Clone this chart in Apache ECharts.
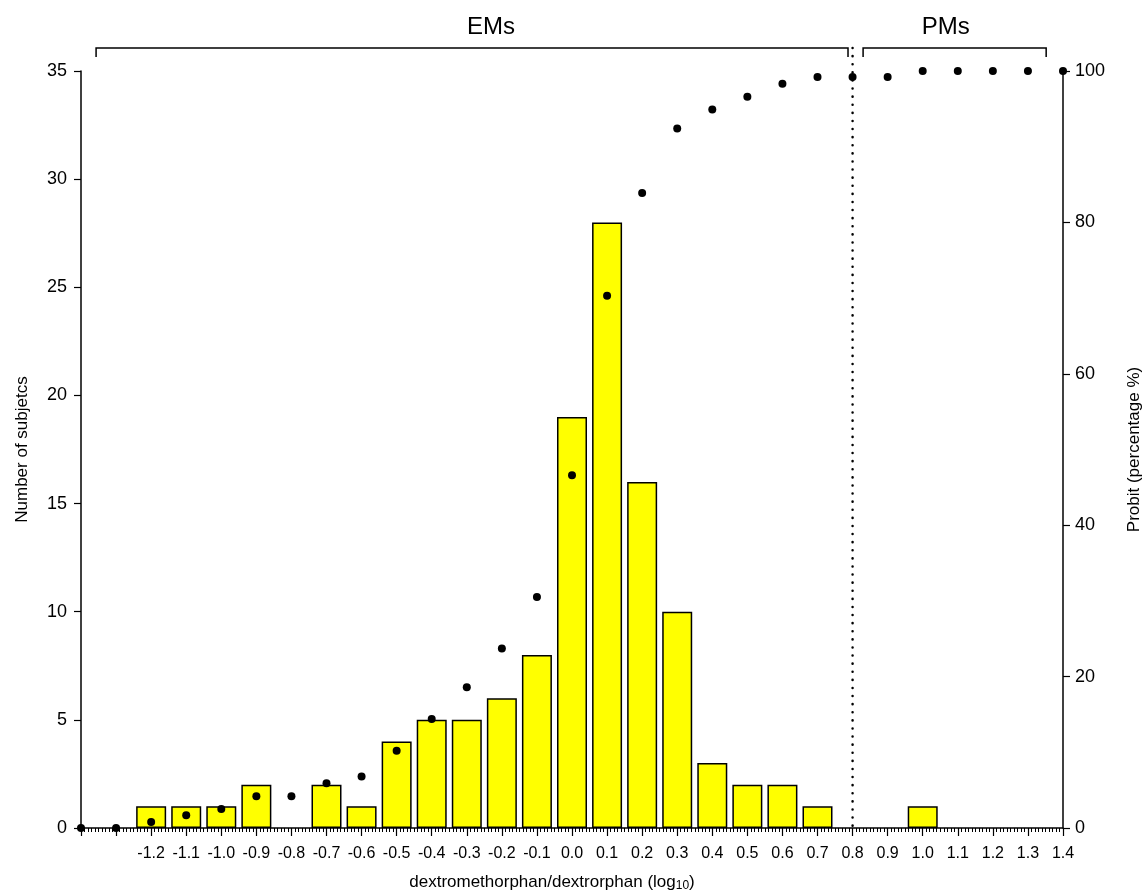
<!DOCTYPE html>
<html>
<head>
<meta charset="utf-8">
<script src="https://cdn.jsdelivr.net/npm/echarts@6/dist/echarts.min.js"></script>
<style>html,body{margin:0;padding:0;background:#fff;overflow:hidden;width:100%;height:100%;}#c{width:100vw;height:100vh;}</style>
</head>
<body>
<div id="c"></div>
<script>
// Histogram bins (log10 metabolic ratio) and number of subjects
const binCenters = [-1.2,-1.1,-1.0,-0.9,-0.7,-0.6,-0.5,-0.4,-0.3,-0.2,-0.1,0.0,0.1,0.2,0.3,0.4,0.5,0.6,0.7,1.0];
const counts     = [1,1,1,2,2,1,4,5,5,6,8,19,28,16,10,3,2,2,1,1];
// Probit (cumulative percentage) points
const probitX   = [-1.4,-1.3,-1.2,-1.1,-1.0,-0.9,-0.8,-0.7,-0.6,-0.5,-0.4,-0.3,-0.2,-0.1,0.0,0.1,0.2,0.3,0.4,0.5,0.6,0.7,0.8,0.9,1.0,1.1,1.2,1.3,1.4];
const probitPct = [0,0,0.8,1.7,2.5,4.2,4.2,5.9,6.8,10.2,14.4,18.6,23.7,30.5,46.6,70.3,83.9,92.4,94.9,96.6,98.3,99.2,99.2,99.2,100,100,100,100,100];
// Group annotations
const groups = [
  {label: 'EMs', from: -1.357, to: 0.787, labelX: -0.231},
  {label: 'PMs', from: 0.830, to: 1.352, labelX: 1.066}
];
const cutoff = 0.8;

const FONT = 'Liberation Sans, Arial, Helvetica, sans-serif';
const chart = echarts.init(document.getElementById('c'));
const option = {
  animation: false,
  backgroundColor: '#fff',
  grid: {left: 81, right: 82, top: 71, bottom: 63, containLabel: false, outerBoundsMode: 'none'},
  xAxis: {
    type: 'value', min: -1.4, max: 1.4, interval: 0.1,
    name: 'dextromethorphan/dextrorphan (log{sub|10})',
    nameLocation: 'middle', nameGap: 44,
    nameTextStyle: {fontFamily: FONT, fontSize: 17, color: '#000', padding: [0, 40, 0, 0],
      rich: {sub: {fontFamily: FONT, fontSize: 12, color: '#000', verticalAlign: 'bottom', padding: [8, 0, 0, 0]}}},
    axisLine: {show: true, onZero: false, lineStyle: {color: '#000', width: 1.5}},
    axisTick: {show: true, length: 8, lineStyle: {color: '#000', width: 1.2}},
    minorTick: {show: true, splitNumber: 10, length: 4, lineStyle: {color: '#000', width: 1}},
    splitLine: {show: false},
    axisLabel: {
      fontFamily: FONT, fontSize: 16, color: '#000', margin: 18, showMaxLabel: true, showMinLabel: true,
      formatter: function (v) { if (v < -1.25) return ''; if (Math.abs(v) < 1e-9) return '0.0'; return v.toFixed(1); }
    }
  },
  yAxis: [
    {
      type: 'value', min: 0, max: 35, interval: 5, position: 'left',
      name: 'Number of subjetcs', nameLocation: 'middle', nameGap: 50, nameRotate: 90,
      nameTextStyle: {fontFamily: FONT, fontSize: 17, color: '#000'},
      axisLine: {show: true, onZero: false, lineStyle: {color: '#000', width: 1.5}},
      axisTick: {show: true, length: 7, lineStyle: {color: '#000', width: 1.2}},
      splitLine: {show: false},
      axisLabel: {fontFamily: FONT, fontSize: 18, color: '#000', margin: 14}
    },
    {
      type: 'value', min: 0, max: 100, interval: 20, position: 'right',
      name: 'Probit (percentage %)', nameLocation: 'middle', nameGap: 63, nameRotate: 90,
      nameTextStyle: {fontFamily: FONT, fontSize: 17, color: '#000'},
      axisLine: {show: true, onZero: false, lineStyle: {color: '#000', width: 1.5}},
      axisTick: {show: true, length: 7, lineStyle: {color: '#000', width: 1.2}},
      splitLine: {show: false},
      axisLabel: {fontFamily: FONT, fontSize: 18, color: '#000', margin: 12}
    }
  ],
  series: [
    {
      type: 'bar', xAxisIndex: 0, yAxisIndex: 0, barWidth: 30,
      data: binCenters.map((x, i) => [x, counts[i]]),
      itemStyle: {color: '#ffff00', borderColor: '#000', borderWidth: 1.5}
    },
    {
      type: 'scatter', xAxisIndex: 0, yAxisIndex: 1, symbol: 'circle', symbolSize: 8, clip: false,
      data: probitX.map((x, i) => [x, probitPct[i]]),
      itemStyle: {color: '#000', opacity: 1}, z: 5
    }
  ]
};
chart.setOption(option);

// Annotations: group brackets, labels and cutoff line
const basePx = chart.convertToPixel({xAxisIndex: 0, yAxisIndex: 0}, [0, 0]);
const topPx = chart.convertToPixel({xAxisIndex: 0, yAxisIndex: 0}, [0, 35]);
const yBr = topPx[1] - 23, yBrEnd = topPx[1] - 14;
const px = v => chart.convertToPixel({xAxisIndex: 0}, v);
const graphics = [];
groups.forEach(g => {
  const x1 = px(g.from), x2 = px(g.to);
  graphics.push({type: 'polyline', shape: {points: [[x1, yBrEnd], [x1, yBr], [x2, yBr], [x2, yBrEnd]]},
    style: {stroke: '#000', lineWidth: 1.5, fill: null}, silent: true});
  graphics.push({type: 'text', x: px(g.labelX), y: yBr - 21,
    style: {text: g.label, font: '24px ' + FONT, fill: '#000', textAlign: 'center', textVerticalAlign: 'middle'}, silent: true});
});
const xc = px(cutoff);
graphics.push({type: 'line', shape: {x1: xc, y1: yBr, x2: xc, y2: basePx[1]},
  style: {stroke: '#000', lineWidth: 2.5, lineDash: [0.1, 8], lineCap: 'round'}, silent: true, z: 10});
chart.setOption({graphic: graphics});
</script>
</body>
</html>
